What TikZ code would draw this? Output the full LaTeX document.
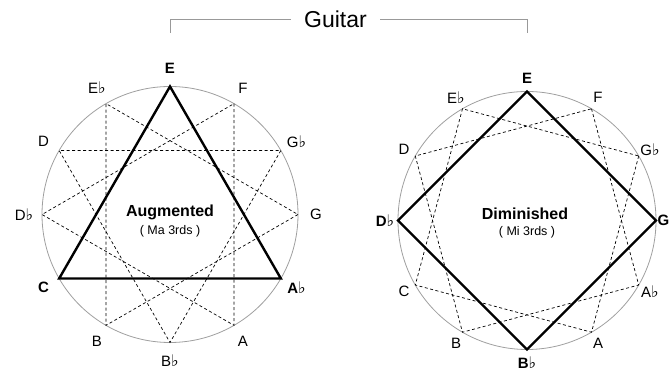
\documentclass[tikz,border=0pt]{standalone}
\usepackage{fontspec}
\setmainfont{Liberation Sans}
\newfontfamily\flatfont{DejaVu Sans}
\newcommand{\flt}{{\flatfont\bfseries\fontsize{16}{16}\selectfont ♭}}
\tikzstyle{ring} = [
    draw=gray!75,
    line width=0.8pt
]
\tikzstyle{chord} = [
    draw=black,
    line width=2.4pt,
    line join=miter
]
\tikzstyle{shadow} = [
    draw=black,
    dash pattern=on 3pt off 2.5pt,
    line width=0.7pt
]
\tikzstyle{note} = [
    font=\fontsize{15}{15}\selectfont,
    inner sep=0pt
]
\tikzstyle{root} = [
    font=\fontsize{15}{15}\selectfont\bfseries,
    inner sep=0pt
]
\tikzstyle{bracket} = [draw=gray!80, line width=0.8pt]

\begin{document}
\begin{tikzpicture}[x=1pt, y=1pt]
\useasboundingbox (0,0) rectangle (670,374);

\node (guitar) [font=\fontsize{23}{23}\selectfont, inner xsep=13pt, inner ysep=0pt] at (335.5,355) {Guitar};
\coordinate (augtop) at (170,341);
\coordinate (dimtop) at (527,341);
\draw [bracket] (guitar.west) -| (augtop);
\draw [bracket] (guitar.east) -| (dimtop);

% augmented circle
\coordinate (aug) at (170,159.5);
\draw [ring] (aug) circle (128);
\foreach \n/\a/\t/\s in {E/90/E/root, F/60/F/note, Gb/30/G\flt/note, G/0/G/note,
    Ab/-30/A\flt/root, A/-60/A/note, Bb/-90/B\flt/note, B/-120/B/note,
    C/-150/C/root, Db/180/D\flt/note, D/150/D/note, Eb/120/E\flt/note}
{
    \path (aug) ++(\a:128) coordinate (aug\n);
    \path (aug) ++(\a:146) node (augL\n) [\s] {\t};
}
\draw [shadow] (augF) -- (augA) -- (augDb) -- cycle;
\draw [shadow] (augGb) -- (augBb) -- (augD) -- cycle;
\draw [shadow] (augG) -- (augB) -- (augEb) -- cycle;
\draw [chord] (augE) -- (augAb) -- (augC) -- cycle;

\node (augname) [anchor=base, font=\fontsize{16}{16}\selectfont\bfseries] at (170,157.3) {Augmented};
\node (augsub) [anchor=base, font=\fontsize{12.5}{12.5}\selectfont] at (170,139) {( Ma 3rds )};

% diminished circle
\coordinate (dim) at (527,153.5);
\draw [ring] (dim) circle (129);
\foreach \n/\a/\t/\s in {E/90/E/root, F/60/F/note, Gb/30/G\flt/note,
    Ab/-30/A\flt/note, A/-60/A/note, Bb/-90/B\flt/root, B/-120/B/note,
    C/-150/C/note, Db/180/D\flt/root, D/150/D/note, Eb/120/E\flt/note}
{
    \path (dim) ++(\a:129) coordinate (dim\n);
    \path (dim) ++(\a:142) node (dimL\n) [\s] {\t};
}
\path (dim) ++(0:129) coordinate (dimG);
\node (dimLG) [root, anchor=east] at (669.5,153.5) {G};
\draw [shadow] (dimF) -- (dimAb) -- (dimB) -- (dimD) -- cycle;
\draw [shadow] (dimGb) -- (dimA) -- (dimC) -- (dimEb) -- cycle;
\draw [chord] (dimE) -- (dimG) -- (dimBb) -- (dimDb) -- cycle;

\node (dimname) [anchor=base, font=\fontsize{16}{16}\selectfont\bfseries] at (525,154) {Diminished};
\node (dimsub) [anchor=base, font=\fontsize{12.5}{12.5}\selectfont] at (527,138) {( Mi 3rds )};

\end{tikzpicture}
\end{document}
